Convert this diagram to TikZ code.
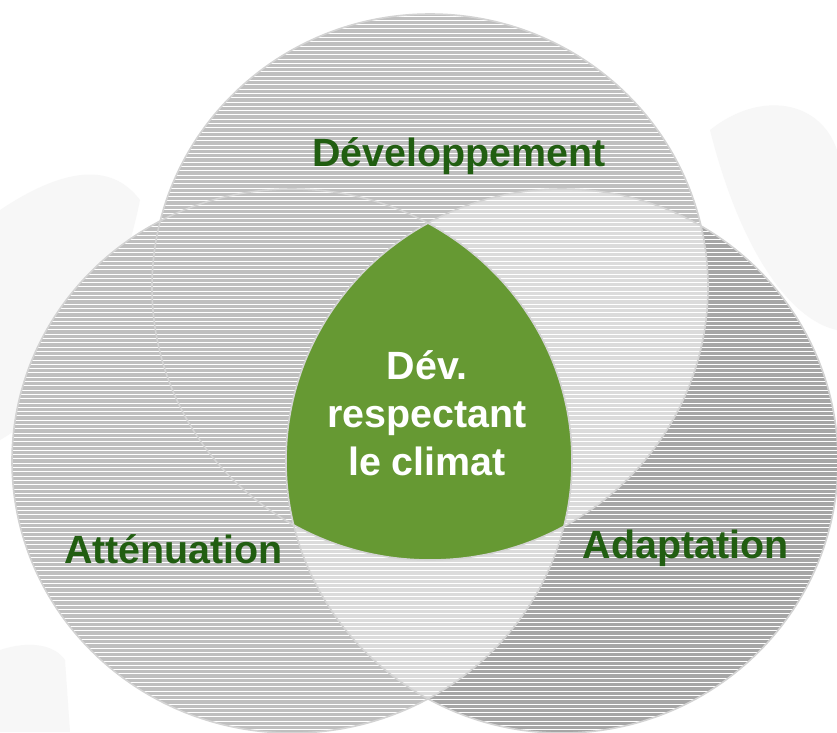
\documentclass[tikz,border=0pt]{standalone}
\usepackage{fontspec}
\setmainfont{Liberation Sans}

\definecolor{ringgray}{HTML}{BFBFBF}
\definecolor{ringdark}{HTML}{A6A6A6}
\definecolor{ringlight}{HTML}{DBDBDB}
\definecolor{ringrim}{HTML}{D3D3D3}
\definecolor{leafgreen}{HTML}{669933}
\definecolor{textgreen}{HTML}{215E11}
\definecolor{bgleaf}{HTML}{F7F7F7}

% the three rings (pixel coordinates)
\newcommand{\topring}{(430,287) ellipse [x radius=278pt, y radius=273pt]}
\newcommand{\leftring}{(292,461) ellipse [x radius=280pt, y radius=272pt]}
\newcommand{\rightring}{(562,461) ellipse [x radius=276pt, y radius=272pt]}

\tikzset{
  ringlabel/.style={font=\bfseries\fontsize{39.4}{47}\selectfont, text=textgreen, anchor=base, inner sep=0pt},
  centrelabel/.style={font=\bfseries\fontsize{39.4}{48}\selectfont, text=white, align=center, inner sep=0pt},
  ringedge/.style={ringrim, line width=1.6pt}
}

\begin{document}
\begin{tikzpicture}[x=1pt,y=-1pt]

    \useasboundingbox (0,0) rectangle (837,732);
    \fill[white] (0,0) rectangle (837,732);

    % faint leaves in the background
    \fill[bgleaf] (0,210) .. controls (60,170) and (110,160) .. (140,200) .. controls (120,300) and (70,400) .. (0,440) -- cycle;
    \fill[bgleaf] (0,650) .. controls (30,640) and (55,645) .. (65,660) -- (70,732) -- (0,732) -- cycle;
    \fill[bgleaf] (710,130) .. controls (760,90) and (820,100) .. (837,150) -- (837,330) .. controls (790,320) and (740,250) .. (710,130) -- cycle;

    % Step 1: plain fills
    \fill[ringgray] \topring;
    \fill[ringgray] \leftring;
    \fill[ringdark] \rightring;

    % Step 2: lighter overlaps
    \begin{scope}
        \clip \topring;
        \fill[ringlight] \rightring;
    \end{scope}
    \begin{scope}
        \clip \leftring;
        \fill[ringlight] \rightring;
    \end{scope}

    % Step 3: horizontal hatching
    \begin{scope}
        \clip \topring \leftring \rightring;
        \foreach \y in {16.0,20.3,...,732} {
            \draw[white, line width=0.9pt] (0,\y) -- (837,\y);
        }
    \end{scope}

    % Step 4: the common core
    \begin{scope}
        \clip \topring;
        \clip \leftring;
        \fill[leafgreen] \rightring;
    \end{scope}

    % rims
    \draw[ringedge] \topring;
    \draw[ringedge] \leftring;
    \draw[ringedge] \rightring;

    % labels
    \node[ringlabel] (dev) at (459,166) {Développement};
    \node[ringlabel] (att) at (173.5,563) {Atténuation};
    \node[ringlabel] (ada) at (685.5,558) {Adaptation};
    \node[centrelabel] (core) at (427,413) {Dév.\\respectant\\le climat};

\end{tikzpicture}
\end{document}
